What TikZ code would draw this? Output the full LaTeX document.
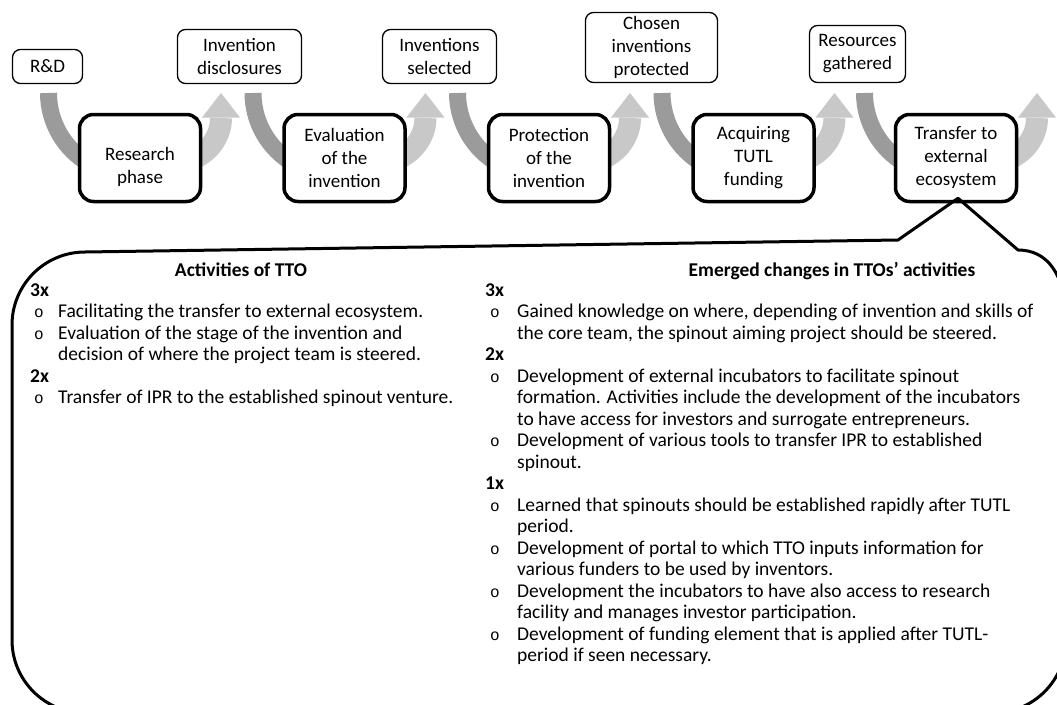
\documentclass[tikz,border=0pt]{standalone}
\usepackage{fontspec}
\setmainfont{Carlito}
\newfontfamily\bulletfont{Liberation Mono}
\usetikzlibrary{calc,backgrounds}

\definecolor{arrowdark}{RGB}{155,155,155}
\definecolor{arrowlight}{RGB}{200,200,200}

\newcommand{\itemmark}[1]{\hspace*{#1}{\bulletfont\fontsize{16}{16}\selectfont o}}

\tikzset{
  outcome/.style={draw=black, line width=1.3pt, rounded corners=8pt, fill=white,
    align=center, inner sep=0pt, font=\fontsize{19}{23}\selectfont},
  phase/.style={draw=black, line width=3.5pt, rounded corners=14pt, fill=white,
    inner sep=0pt, minimum width=121pt, minimum height=87pt},
  phasetext/.style={align=center, inner sep=0pt, font=\fontsize{19}{23}\selectfont},
  downflow/.style={draw=arrowdark, line width=17pt},
  upflow/.style={draw=arrowlight, line width=22pt},
  uphead/.style={fill=arrowlight},
  callout/.style={draw=black, line width=3pt, line join=round},
  bodytext/.style={inner sep=0pt, font=\fontsize{19.5}{21.5}\selectfont},
  heading/.style={inner sep=0pt, anchor=base, font=\fontsize{19.5}{21.5}\selectfont\bfseries},
}

\begin{document}
\begin{tikzpicture}[x=1pt,y=-1pt]
  \useasboundingbox (0,0) rectangle (1057,704);
  \clip (0,0) rectangle (1057,704);

  % outcomes along the top row
  \node[outcome, minimum width=70pt,  minimum height=34pt] (o0) at (47.5,66.5) {R\&D};
  \node[outcome, minimum width=124pt, minimum height=54pt] (o1) at (239.5,56.5) {Invention\\disclosures};
  \node[outcome, minimum width=114pt, minimum height=54pt] (o2) at (439.5,56.5) {Inventions\\selected};
  \node[outcome, minimum width=132pt, minimum height=70pt] (o3) at (651.5,47.5) {Chosen\\inventions\\protected};
  \node[outcome, minimum width=96pt,  minimum height=57pt] (o4) at (857.5,54) {Resources\\gathered};

  % phases along the lower row
  \node[phase] (p0) at (140,158) {};
  \node[phase] (p1) at (344.5,158) {};
  \node[phase] (p2) at (549,158) {};
  \node[phase] (p3) at (753.5,158) {};
  \node[phase] (p4) at (956,158) {};
  \node[phasetext] (t0) at (140,167) {Research\\phase};
  \node[phasetext] (t1) at (344.5,158) {Evaluation\\of the\\invention};
  \node[phasetext] (t2) at (549,158) {Protection\\of the\\invention};
  \node[phasetext] (t3) at (753.5,158) {Acquiring\\TUTL\\funding};
  \node[phasetext] (t4) at (956,158) {Transfer to\\external\\ecosystem};

  % bending arrows behind each phase
  \begin{scope}[on background layer]
    \foreach \i in {0,...,4} {
      \begin{scope}[shift={(p\i.center)}]
        \draw[downflow] (-91.5,-65) .. controls (-91.5,-35.9) and (-75.95,-8.95) .. (-50.75,5.6);
        \draw[upflow] (51.4,1.3) .. controls (69.2,-5.2) and (81,-22.1) .. (81,-40);
        \fill[uphead] (81,-65) -- (100,-40.5) -- (62,-40.5) -- cycle;
      \end{scope}
    }
  \end{scope}

  % callout from the last phase
  \draw[callout] (898,240) -- ($(p4.south)+(2,-5)$) -- (1018,250)
    .. controls (1046,250) and (1066,272) .. (1066,323)
    -- (1066,640) .. controls (1066,680.3) and (1033.3,713) .. (993,713)
    -- (85,713) .. controls (44.7,713) and (12,680.3) .. (12,640)
    -- (12,325) .. controls (12,284.7) and (44.7,252) .. (85,252)
    -- cycle;

  % column headings
  \node[heading] (h1) at (241,276) {Activities of TTO};
  \node[heading] (h2) at (832,276) {Emerged changes in TTOs’ activities};

  % left column
  \node[bodytext, anchor=base west] (c1) at (30,296) {%
    \begin{tabular}[t]{@{}p{28pt}@{}l@{}}
      \multicolumn{2}{@{}l@{}}{\textbf{3x}}\\
      \itemmark{4pt} & Facilitating the transfer to external ecosystem.\\
      \itemmark{4pt} & Evaluation of the stage of the invention and\\
       & decision of where the project team is steered.\\
      \multicolumn{2}{@{}l@{}}{\textbf{2x}}\\
      \itemmark{4pt} & Transfer of IPR to the established spinout venture.\\
    \end{tabular}};

  % right column
  \node[bodytext, anchor=base west] (c2) at (485,296) {%
    \begin{tabular}[t]{@{}p{32pt}@{}l@{}}
      \multicolumn{2}{@{}l@{}}{\textbf{3x}}\\
      \itemmark{5pt} & Gained knowledge on where, depending of invention and skills of\\
       & the core team, the spinout aiming project should be steered.\\
      \multicolumn{2}{@{}l@{}}{\textbf{2x}}\\
      \itemmark{5pt} & Development of external incubators to facilitate spinout\\
       & formation. Activities include the development of the incubators\\
       & to have access for investors and surrogate entrepreneurs.\\
      \itemmark{5pt} & Development of various tools to transfer IPR to established\\
       & spinout.\\
      \multicolumn{2}{@{}l@{}}{\textbf{1x}}\\
      \itemmark{5pt} & Learned that spinouts should be established rapidly after TUTL\\
       & period.\\
      \itemmark{5pt} & Development of portal to which TTO inputs information for\\
       & various funders to be used by inventors.\\
      \itemmark{5pt} & Development the incubators to have also access to research\\
       & facility and manages investor participation.\\
      \itemmark{5pt} & Development of funding element that is applied after TUTL-\\
       & period if seen necessary.\\
    \end{tabular}};
\end{tikzpicture}
\end{document}
